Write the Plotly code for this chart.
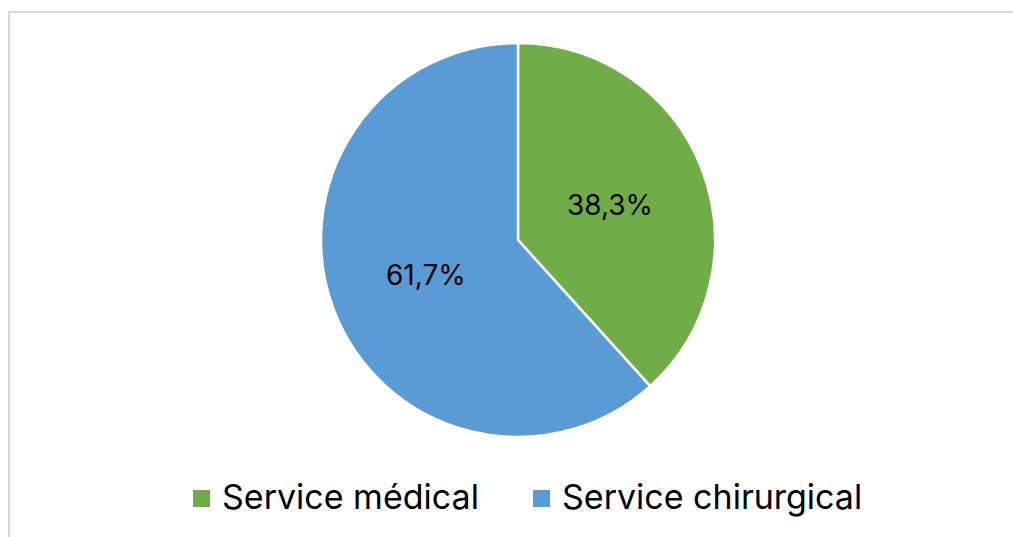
import math
import plotly.graph_objects as go

# Répartition des patients par service
services = ["Service médical", "Service chirurgical"]
pourcentages = [38.3, 61.7]
couleurs = ["#70AD47", "#5B9BD5"]

W, H = 1013, 537
FONT = "Inter"


def px_x(x):
    return x / W


def px_y(y):
    return 1 - y / H


fig = go.Figure()
fig.add_trace(go.Pie(
    labels=services,
    values=pourcentages,
    sort=False,
    direction="clockwise",
    rotation=0,
    marker=dict(colors=couleurs, line=dict(color="white", width=2.5)),
    texttemplate="%{value:.1f}%",
    textposition="none",
    hoverinfo="label+percent",
    showlegend=False,
    domain=dict(x=[px_x(321), px_x(715)], y=[px_y(437), px_y(43)]),
))

# Étiquettes de données au milieu de chaque secteur (angle médian, ~0,5 du rayon)
cx, cy, r = 518, 240, 197
total = sum(pourcentages)
cumul = 0.0
annotations = []
for val in pourcentages:
    mid = (cumul + val / 2) / total * 2 * math.pi
    cumul += val
    lx = cx + 0.5 * r * math.sin(mid)
    ly = cy - 0.5 * r * math.cos(mid)
    annotations.append(dict(
        x=px_x(lx), y=px_y(ly), xref="paper", yref="paper",
        text=f"{val:.1f}%".replace(".", ","), showarrow=False,
        font=dict(family=FONT, size=28, color="#000000"),
        xanchor="center", yanchor="middle",
    ))

# Légende en bas du graphique
shapes = []
legende_x = [(193, 222), (533, 562)]
for (sx, tx), nom, coul in zip(legende_x, services, couleurs):
    shapes.append(dict(
        type="rect", xref="paper", yref="paper",
        x0=px_x(sx), x1=px_x(sx + 17), y0=px_y(507), y1=px_y(490),
        fillcolor=coul, line=dict(width=0),
    ))
    annotations.append(dict(
        x=px_x(tx - 2), y=px_y(496), xref="paper", yref="paper",
        text=nom, showarrow=False,
        font=dict(family=FONT, size=34, color="#000000"),
        xanchor="left", yanchor="middle",
    ))

# Cadre de la zone de graphique
shapes.append(dict(
    type="rect", xref="paper", yref="paper",
    x0=px_x(9), x1=px_x(1030), y0=px_y(560), y1=px_y(12),
    line=dict(color="#D9D9D9", width=2), fillcolor="rgba(0,0,0,0)", layer="below",
))

fig.update_layout(
    width=W, height=H,
    margin=dict(l=0, r=0, t=0, b=0),
    paper_bgcolor="white",
    plot_bgcolor="white",
    annotations=annotations,
    shapes=shapes,
)

fig.write_html("out.html")
